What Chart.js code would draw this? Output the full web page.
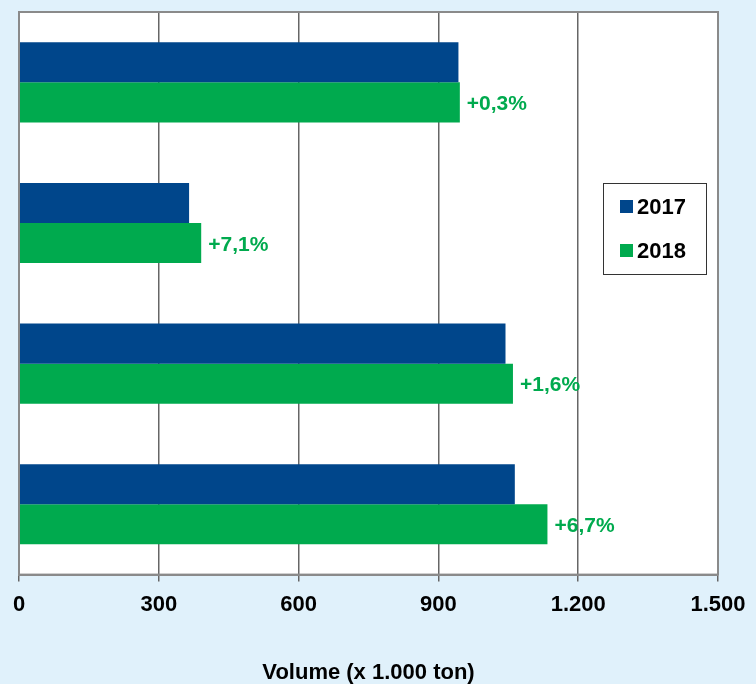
<!DOCTYPE html>
<html lang="nl">
<head>
  <meta charset="UTF-8">
  <title>Volume</title>
  <script src="https://cdn.jsdelivr.net/npm/chart.js"></script>
  <style>
    body { margin: 0; background: #e0f1fb; }
  </style>
</head>
<body>
<div style="width: 756px; height: 684px;">
  <canvas id="myChart" width="756" height="684"></canvas>
</div>
<script>
const categories = ['1', '2', '3', '4'];
const values2017 = [943, 365, 1044, 1064];
const values2018 = [946, 391, 1060, 1134];
const changeLabels = ['+0,3%', '+7,1%', '+1,6%', '+6,7%'];
const tickValues = [0, 300, 600, 900, 1200, 1500];

const blue = '#00468b';
const green = '#00aa4e';
const fontFamily = '"Liberation Sans", Arial, sans-serif';

function fmt(v) {
  return String(v).replace(/\B(?=(\d{3})+(?!\d))/g, '.');
}

// white plot area + grey frame
const plotBg = {
  id: 'plotBg',
  beforeDraw(chart) {
    const a = chart.chartArea, ctx = chart.ctx;
    ctx.save();
    ctx.fillStyle = '#ffffff';
    ctx.fillRect(a.left, a.top, a.right - a.left, a.bottom - a.top);
    ctx.restore();
  },
  afterDraw(chart) {
    const a = chart.chartArea, ctx = chart.ctx;
    ctx.save();
    ctx.strokeStyle = '#8a8a8a';
    ctx.lineWidth = 2;
    ctx.strokeRect(a.left, a.top, a.right - a.left, a.bottom - a.top);
    ctx.restore();
  }
};

// percentage labels next to the 2018 bars
const changeText = {
  id: 'changeText',
  afterDatasetsDraw(chart) {
    const ctx = chart.ctx;
    const meta = chart.getDatasetMeta(1);
    ctx.save();
    ctx.font = 'bold 21px ' + fontFamily;
    ctx.fillStyle = green;
    ctx.textBaseline = 'middle';
    ctx.textAlign = 'left';
    meta.data.forEach((bar, i) => {
      ctx.fillText(changeLabels[i], bar.x + 7, bar.y + 2);
    });
    ctx.restore();
  }
};

// legend box inside the plot
const boxLegend = {
  id: 'boxLegend',
  afterDraw(chart) {
    const a = chart.chartArea, ctx = chart.ctx;
    const x = a.right - 115, y = a.top + 171;
    ctx.save();
    ctx.fillStyle = '#ffffff';
    ctx.fillRect(x, y, 103, 91);
    ctx.strokeStyle = '#333333';
    ctx.lineWidth = 1;
    ctx.strokeRect(x + 0.5, y + 0.5, 103, 91);
    ctx.font = 'bold 22px ' + fontFamily;
    ctx.textBaseline = 'middle';
    chart.data.datasets.forEach((ds, i) => {
      const cy = y + 24 + i * 44;
      ctx.fillStyle = ds.backgroundColor;
      ctx.fillRect(x + 17, cy - 7, 13, 13);
      ctx.fillStyle = '#000000';
      ctx.fillText(ds.label, x + 34, cy + 1);
    });
    ctx.restore();
  }
};

const data = {
  labels: categories,
  datasets: [{
    label: '2017',
    backgroundColor: blue,
    data: values2017,
  }, {
    label: '2018',
    backgroundColor: green,
    data: values2018,
  }]
};

const config = {
  type: 'bar',
  data: data,
  plugins: [plotBg, changeText, boxLegend],
  options: {
    indexAxis: 'y',
    responsive: false,
    animation: false,
    categoryPercentage: 0.57,
    barPercentage: 1.0,
    layout: { padding: { left: 19, right: 38, top: 12, bottom: 0 } },
    plugins: {
      legend: { display: false },
      tooltip: { enabled: false }
    },
    scales: {
      x: {
        min: 0,
        max: 1500,
        afterBuildTicks(scale) {
          scale.ticks = tickValues.map(v => ({ value: v }));
        },
        grid: { color: '#666666', lineWidth: 1.5, tickLength: 7 },
        border: { color: '#8a8a8a', width: 2 },
        ticks: {
          color: '#000000',
          padding: 10,
          font: { family: fontFamily, size: 22, weight: 'bold' },
          callback: v => fmt(v)
        },
        title: {
          display: true,
          text: 'Volume (x 1.000 ton)',
          color: '#000000',
          padding: { top: 34, bottom: 0 },
          font: { family: fontFamily, size: 22, weight: 'bold', lineHeight: 1 }
        }
      },
      y: {
        display: false
      }
    }
  }
};

const myChart = new Chart(
  document.getElementById('myChart'),
  config
);
</script>
</body>
</html>
